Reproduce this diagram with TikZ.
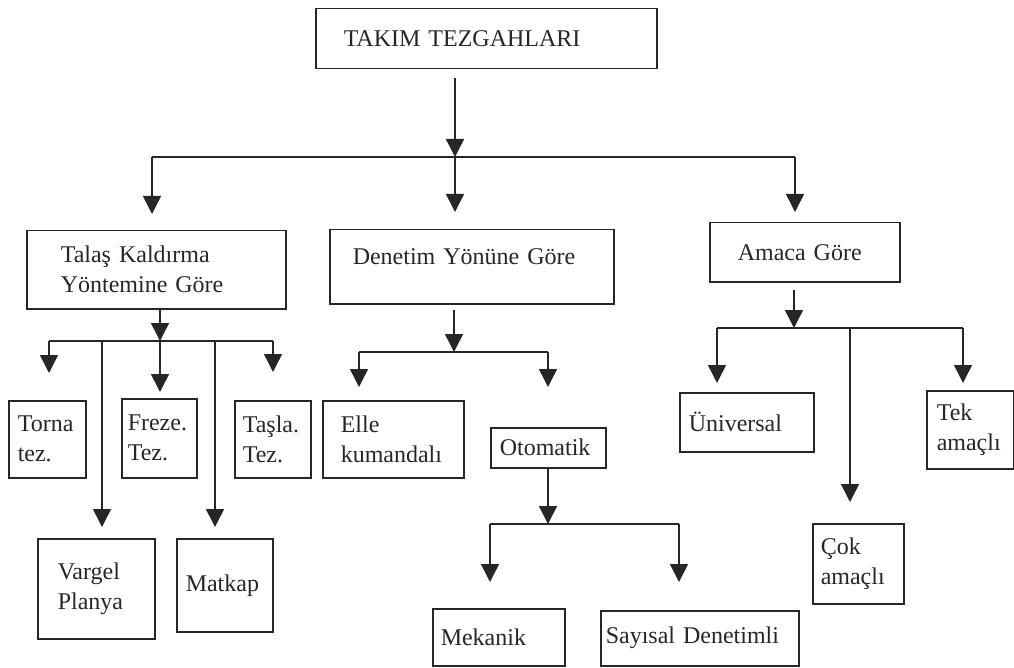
\documentclass[tikz,border=0pt]{standalone}
\usepackage{fontspec}
\setmainfont{Liberation Serif}
\usetikzlibrary{arrows.meta}
\definecolor{ink}{gray}{0.15}
\begin{document}
\begin{tikzpicture}[x=1pt,y=-1pt,
  every node/.style={font=\fontsize{24}{30}\selectfont, text=ink},
  bx/.style={draw=ink, line width=1.5pt, anchor=north west, align=left, inner ysep=0pt},
  ln/.style={draw=ink, line width=1.5pt},
  arr/.style={ln, -{Triangle[width=18pt,length=18pt]}}]
\useasboundingbox (0,0) rectangle (1014,668);
% boxes
\node[bx, minimum width=341, minimum height=60, inner xsep=28, text width=285] (top) at (315,8) {TAKIM TEZGAHLARI};
\node[bx, minimum width=259, minimum height=78, inner xsep=34, text width=191] (talas) at (26,230) {Talaş Kaldırma\\Yöntemine Göre};
\node[bx, minimum width=284, minimum height=74, inner xsep=23, text width=238, text depth=20pt] (denetim) at (329,229) {Denetim Yönüne Göre};
\node[bx, minimum width=190, minimum height=59, inner xsep=28, text width=134] (amaca) at (709,222) {Amaca Göre};
\node[bx, minimum width=77, minimum height=77, inner xsep=9, text width=59] (torna) at (8,400) {Torna\\tez.};
\node[bx, minimum width=75, minimum height=79, inner xsep=6, text width=63] (freze) at (121,398) {Freze.\\Tez.};
\node[bx, minimum width=76, minimum height=77, inner xsep=8, text width=60] (tasla) at (234,400) {Taşla.\\Tez.};
\node[bx, minimum width=117, minimum height=100, inner xsep=20, text width=77] (vargel) at (37,538) {Vargel\\Planya};
\node[bx, minimum width=96, minimum height=93, inner xsep=9, text width=78] (matkap) at (176,538) {Matkap};
\node[bx, minimum width=141, minimum height=77, inner xsep=18, text width=105] (elle) at (322,400) {Elle\\kumandalı};
\node[bx, minimum width=115, minimum height=40, inner xsep=9, text width=97] (otomatik) at (490,427) {Otomatik};
\node[bx, minimum width=132, minimum height=57, inner xsep=8, text width=116] (mekanik) at (432,608) {Mekanik};
\node[bx, minimum width=198, minimum height=55, inner xsep=5, text width=188] (sayisal) at (600,610) {Sayısal Denetimli};
\node[bx, minimum width=134, minimum height=59, inner xsep=9, text width=116] (universal) at (679,392) {Üniversal};
\node[bx, minimum width=87, minimum height=78, inner xsep=10, text width=67] (tek) at (926,390) {Tek\\amaçlı};
\node[bx, minimum width=91, minimum height=80, inner xsep=8, text width=75] (cok) at (812,523) {Çok\\amaçlı};
% level 1
\coordinate (j0) at (455,157);
\coordinate (bl) at (152,157);
\coordinate (br) at (795,157);
\draw[arr, shorten <=9pt] (top.south -| j0) -- (j0);
\draw[ln] (bl) -- (br);
\draw[arr, shorten >=16pt] (bl) -- (talas.north -| bl);
\draw[arr, shorten >=17pt] (j0) -- (denetim.north -| j0);
\draw[arr, shorten >=10pt] (br) -- (amaca.north -| br);
% Talas group
\coordinate (j1) at (160,341);
\coordinate (t1) at (49,341);
\coordinate (t2) at (102,341);
\coordinate (t4) at (215,341);
\coordinate (t5) at (273,341);
\draw[arr] (talas.south -| j1) -- (j1);
\draw[ln] (t1) -- (t5);
\draw[arr, shorten >=27pt] (t1) -- (torna.north -| t1);
\draw[arr, shorten >=11pt] (t2) -- (vargel.north -| t2);
\draw[arr, shorten >=6pt] (j1) -- (freze.north -| j1);
\draw[arr, shorten >=11pt] (t4) -- (matkap.north -| t4);
\draw[arr, shorten >=28pt] (t5) -- (tasla.north -| t5);
% Denetim group
\coordinate (j2) at (454,352);
\coordinate (d1) at (359,352);
\coordinate (d2) at (548,352);
\draw[arr, shorten <=5pt] (denetim.south -| j2) -- (j2);
\draw[ln] (d1) -- (d2);
\draw[arr, shorten >=13pt] (d1) -- (elle.north -| d1);
\draw[arr, shorten >=40pt] (d2) -- (otomatik.north -| d2);
% Otomatik group
\coordinate (j3) at (548,524);
\coordinate (o1) at (490,524);
\coordinate (o2) at (679,524);
\draw[arr] (otomatik.south -| j3) -- (j3);
\draw[ln] (o1) -- (o2);
\draw[arr, shorten >=26pt] (o1) -- (mekanik.north -| o1);
\draw[arr, shorten >=28pt] (o2) -- (sayisal.north -| o2);
% Amaca group
\coordinate (j4) at (794,328);
\coordinate (a1) at (717,328);
\coordinate (a2) at (850,328);
\coordinate (a3) at (963,328);
\draw[arr, shorten <=7pt] (amaca.south -| j4) -- (j4);
\draw[ln] (a1) -- (a3);
\draw[arr, shorten >=9pt] (a1) -- (universal.north -| a1);
\draw[arr, shorten >=21pt] (a2) -- (cok.north -| a2);
\draw[arr, shorten >=7pt] (a3) -- (tek.north -| a3);
\end{tikzpicture}
\end{document}
